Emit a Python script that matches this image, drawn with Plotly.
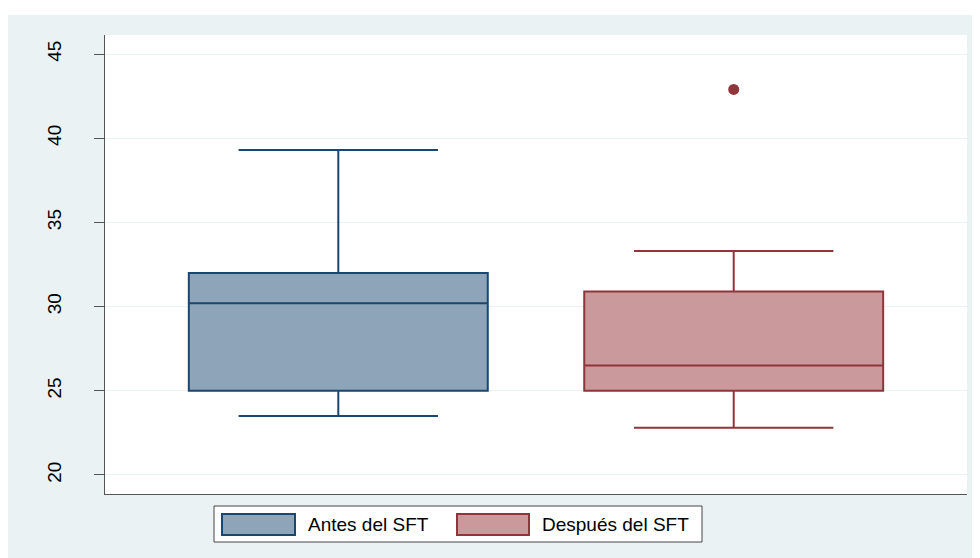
import plotly.graph_objects as go

# Box statistics
groups = ["Antes del SFT", "Después del SFT"]
positions = [0, 1]
q1 = [25.0, 25.0]
median = [30.2, 26.5]
q3 = [32.0, 30.9]
lower_fence = [23.5, 22.8]
upper_fence = [39.3, 33.3]
outlier_x = [1]
outlier_y = [42.9]

y_ticks = [20, 25, 30, 35, 40, 45]

LINE_COLORS = ["#1a476f", "#90353b"]
FILL_COLORS = ["#8ea5b9", "#c9999c"]
BG = "#eaf2f3"
FONT = "Liberation Sans, Arial, sans-serif"

# the page body adds an 8px margin, so the figure is 8px smaller than the window
OFF = 8
W, H = 980 - OFF, 558 - OFF
L, R, T, B = 105 - OFF, 13, 35 - OFF, 64
PW, PH = W - L - R, H - T - B


def px_x(x):
    # window pixel -> paper coordinate
    return (x - 105) / PW


def px_y(y):
    return (494 - y) / PH


fig = go.Figure()
for i, name in enumerate(groups):
    fig.add_trace(
        go.Box(
            x=[positions[i]],
            q1=[q1[i]],
            median=[median[i]],
            q3=[q3[i]],
            lowerfence=[lower_fence[i]],
            upperfence=[upper_fence[i]],
            name=name,
            width=0.756,
            whiskerwidth=0.667,
            fillcolor=FILL_COLORS[i],
            line={"color": LINE_COLORS[i], "width": 2},
            boxpoints=False,
            hoverinfo="y",
            showlegend=False,
        )
    )

fig.add_trace(
    go.Scatter(
        x=outlier_x,
        y=outlier_y,
        mode="markers",
        marker={"color": LINE_COLORS[1], "size": 11, "symbol": "circle"},
        showlegend=False,
    )
)

shapes = [
    # white strip above the Stata-style graph region
    {"type": "rect", "xref": "paper", "yref": "paper", "x0": px_x(0), "x1": px_x(990),
     "y0": px_y(15), "y1": px_y(0), "fillcolor": "white", "line": {"width": 0}, "layer": "below"},
    # legend frame
    {"type": "rect", "xref": "paper", "yref": "paper", "x0": px_x(214), "x1": px_x(702),
     "y0": px_y(542), "y1": px_y(506), "fillcolor": "white", "line": {"color": "#444444", "width": 1}},
]
annotations = []
swatches = [(222, 295, 306), (457, 529, 540)]
for i, (sx0, sx1, tx) in enumerate(swatches):
    shapes.append(
        {"type": "rect", "xref": "paper", "yref": "paper", "x0": px_x(sx0), "x1": px_x(sx1),
         "y0": px_y(535), "y1": px_y(514), "fillcolor": FILL_COLORS[i],
         "line": {"color": LINE_COLORS[i], "width": 2}}
    )
    annotations.append(
        {"text": groups[i], "xref": "paper", "yref": "paper", "x": px_x(tx), "y": px_y(524.5),
         "xanchor": "left", "yanchor": "middle", "showarrow": False,
         "font": {"size": 19, "color": "black", "family": FONT}}
    )

fig.update_layout(
    width=W,
    height=H,
    margin={"l": L, "r": R, "t": T, "b": B},
    paper_bgcolor=BG,
    plot_bgcolor="white",
    font={"family": FONT, "color": "black"},
    shapes=shapes,
    annotations=annotations,
    showlegend=False,
    xaxis={
        "range": [-0.59, 1.59],
        "showticklabels": False,
        "ticks": "",
        "showgrid": False,
        "zeroline": False,
        "showline": True,
        "linecolor": "#555555",
        "linewidth": 1,
    },
    yaxis={
        "range": [18.87, 46.13],
        "tickvals": y_ticks,
        "tickangle": -90,
        "ticks": "outside",
        "ticklen": 10,
        "tickcolor": "#555555",
        "tickfont": {"size": 19, "family": FONT},
        "ticklabelstandoff": 25,
        "showgrid": True,
        "gridcolor": BG,
        "gridwidth": 1,
        "zeroline": False,
        "showline": True,
        "linecolor": "#555555",
        "linewidth": 1,
    },
)

fig.write_html("out.html")
